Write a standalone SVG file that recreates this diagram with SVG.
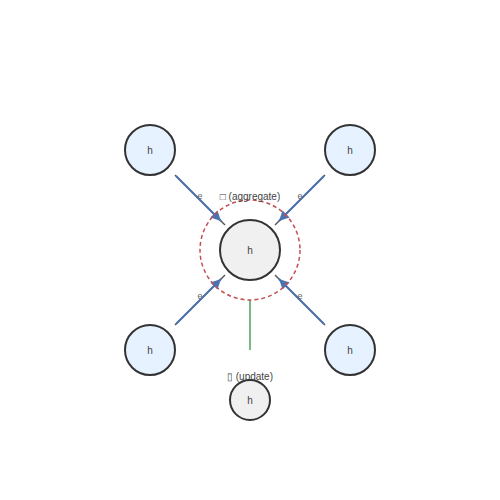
<svg xmlns="http://www.w3.org/2000/svg" width="500" height="500" viewBox="0 0 500 500">
<style>
text{font-family:"Liberation Sans",Arial,sans-serif;font-size:10px;fill:#444;text-anchor:middle;dominant-baseline:central}
.lbl{font-size:9px;fill:#666}
.nb{fill:#e6f2ff;stroke:#333;stroke-width:2}
.nc{fill:#f0f0f0;stroke:#333;stroke-width:2}
.base{stroke:#555;stroke-width:1.5}
.msg{stroke:#4c72b0;stroke-width:2;marker-end:url(#ah)}
</style>
<defs>
<marker id="ah" viewBox="0 0 10 10" refX="10" refY="5" markerWidth="5" markerHeight="5" orient="auto" markerUnits="strokeWidth">
<path d="M0,0 L10,5 L0,10 z" fill="#4c72b0"/>
</marker>
</defs>
<rect width="500" height="500" fill="#fff"/>
<g id="connectors">
<line class="base" x1="175" y1="175" x2="225" y2="225"/>
<line class="base" x1="325" y1="175" x2="275" y2="225"/>
<line class="base" x1="175" y1="325" x2="225" y2="275"/>
<line class="base" x1="325" y1="325" x2="275" y2="275"/>
<line class="msg" x1="176" y1="176" x2="221" y2="221"/>
<line class="msg" x1="324" y1="176" x2="279" y2="221"/>
<line class="msg" x1="176" y1="324" x2="221" y2="279"/>
<line class="msg" x1="324" y1="324" x2="279" y2="279"/>
<line x1="250" y1="300" x2="250" y2="350" stroke="#55a868" stroke-opacity="0.8" stroke-width="2"/>
<text class="lbl" x="200" y="196">e</text>
<text class="lbl" x="300" y="196">e</text>
<text class="lbl" x="200" y="296">e</text>
<text class="lbl" x="300" y="296">e</text>
</g>
<g id="aggregate">
<circle cx="250" cy="250" r="50" fill="none" stroke="#c44e52" stroke-width="1.5" stroke-dasharray="4,3"/>
<text x="250" y="196">□ (aggregate)</text>
</g>
<g id="n1"><circle class="nb" cx="150" cy="150" r="25"/><text x="150" y="150">h</text></g>
<g id="n2"><circle class="nb" cx="350" cy="150" r="25"/><text x="350" y="150">h</text></g>
<g id="n3"><circle class="nb" cx="150" cy="350" r="25"/><text x="150" y="350">h</text></g>
<g id="n4"><circle class="nb" cx="350" cy="350" r="25"/><text x="350" y="350">h</text></g>
<g id="center"><circle class="nc" cx="250" cy="250" r="30"/><text x="250" y="250">h</text></g>
<g id="update">
<text x="250" y="376">▯ (update)</text>
<circle class="nc" cx="250" cy="400" r="20"/><text x="250" y="400">h</text>
</g>
</svg>
